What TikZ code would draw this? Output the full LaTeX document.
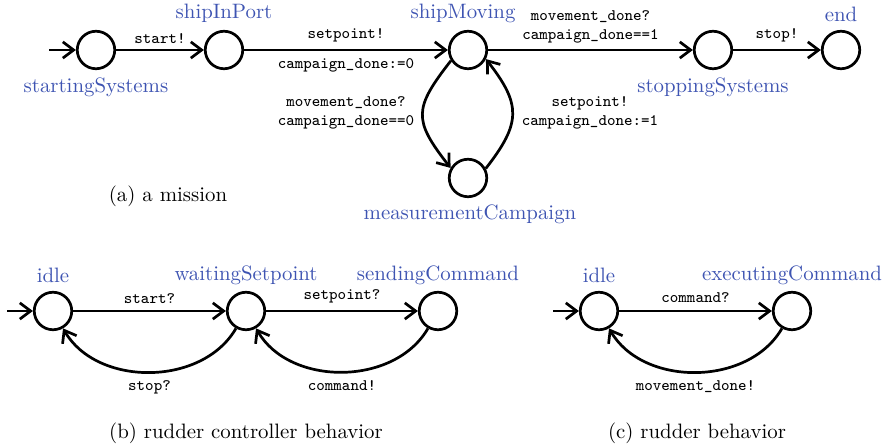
\documentclass[tikz,border=0pt]{standalone}
\usetikzlibrary{arrows.meta}
\definecolor{locblue}{RGB}{62,84,178}
\begin{document}
\begin{tikzpicture}[x=0.48pt,y=0.48pt,
  state/.style={circle,draw,line width=1.3pt,inner sep=0pt,minimum size=18pt},
  loc/.style={text=locblue,font=\normalsize},
  act/.style={font=\ttfamily\fontsize{7.7}{9}\selectfont,align=center},
  figcap/.style={font=\normalsize},
  tr/.style={line width=1.3pt,-{Straight Barb[length=5.2pt,width=7.8pt,line width=1.3pt]}}]
\useasboundingbox (0,0) rectangle (887,-448);

% (a) a mission
\node[state] (ss) at (96,-50) {};
\node[state] (sp) at (224,-50) {};
\node[state] (sm) at (468,-50) {};
\node[state] (st) at (713,-50) {};
\node[state] (en) at (841,-50) {};
\node[state] (mc) at (468,-178) {};
\coordinate (ssin) at (49,-50);

\node[loc] at (96,-87) {startingSystems};
\node[loc] at (224,-13) {shipInPort};
\node[loc] at (463,-13) {shipMoving};
\node[loc] at (713,-87) {stoppingSystems};
\node[loc] at (841,-14) {end};
\node[loc] at (470,-214) {measurementCampaign};

\draw[tr] (ssin) -- (ss);
\draw[tr] (ss) -- node[act,above=-1pt] {start!} (sp);
\draw[tr] (sp) -- node[act,above=-0.4pt] {setpoint!} node[act,below=0pt] {campaign\_done:=0} (sm);
\draw[tr] (sm) -- node[act,above=-0.5pt] {movement\_done?\\campaign\_done==1} (st);
\draw[tr] (st) -- node[act,above=0pt] {stop!} (en);
\draw[tr] (sm.212) to[out=232,in=128,looseness=1.45] (mc.150);
\draw[tr] (mc.28) to[out=52,in=-52,looseness=1.35] (sm.-27);
\node[act] at (346,-113) {movement\_done?\\campaign\_done==0};
\node[act] at (590,-113) {setpoint!\\campaign\_done:=1};
\node[figcap] at (168,-196) {(a) a mission};

% (b) rudder controller behavior
\node[state] (bi) at (53,-311) {};
\node[state] (bw) at (246,-311) {};
\node[state] (bs) at (438,-311) {};
\coordinate (biin) at (7,-311);
\node[loc] at (53,-275) {idle};
\node[loc] at (246,-275) {waitingSetpoint};
\node[loc] at (438,-275) {sendingCommand};

\draw[tr] (biin) -- (bi);
\draw[tr] (bi) -- node[act,above=-0.4pt] {start?} (bw);
\draw[tr] (bw) -- node[act,above=-0.4pt] {setpoint?} (bs);
\draw[tr] (bw) to[out=240,in=300,looseness=1] node[act,below=0pt] {stop?} (bi);
\draw[tr] (bs) to[out=240,in=300,looseness=1] node[act,below=0pt] {command!} (bw);
\node[figcap] at (246,-433) {(b) rudder controller behavior};

% (c) rudder behavior
\node[state] (ci) at (599,-311) {};
\node[state] (ce) at (792,-311) {};
\coordinate (ciin) at (553,-311);
\node[loc] at (599,-275) {idle};
\node[loc] at (792,-275) {executingCommand};

\draw[tr] (ciin) -- (ci);
\draw[tr] (ci) -- node[act,above=0pt] {command?} (ce);
\draw[tr] (ce) to[out=240,in=300,looseness=1] node[act,below=0pt] {movement\_done!} (ci);
\node[figcap] at (697,-433) {(c) rudder behavior};
\end{tikzpicture}
\end{document}
